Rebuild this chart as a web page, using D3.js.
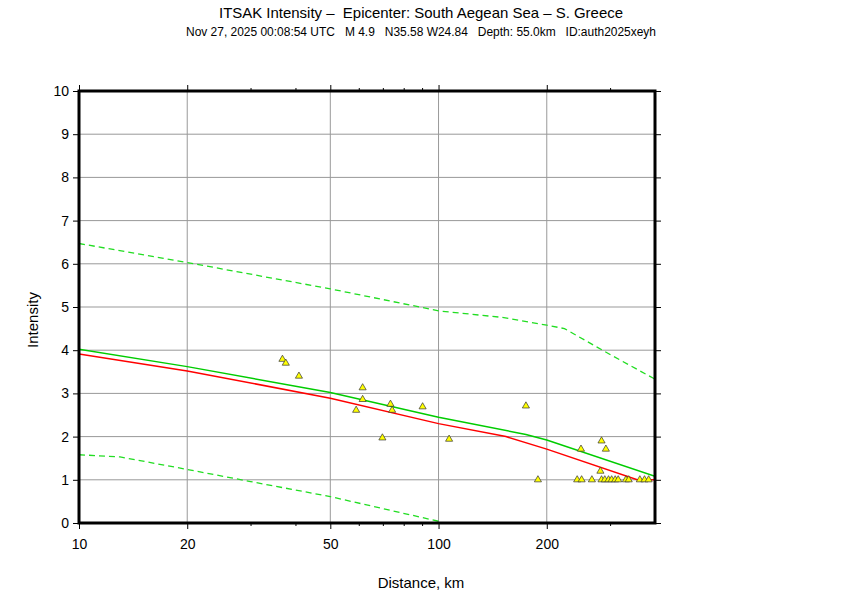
<!DOCTYPE html>
<html><head><meta charset="utf-8">
<script src="https://cdn.jsdelivr.net/npm/d3@7"></script>
<style>body{margin:0;background:#fff}text{font-family:"Liberation Sans",Arial,sans-serif}</style>
</head><body>
<svg id="c" width="842" height="595"></svg>
<script>
const title = "ITSAK Intensity \u2013  Epicenter: South Aegean Sea \u2013 S. Greece";
const subtitle = "Nov 27, 2025 00:08:54 UTC   M 4.9   N35.58 W24.84   Depth: 55.0km   ID:auth2025xeyh";
const xLabel = "Distance, km";
const yLabel = "Intensity";
const xMajorTicks = [10, 20, 50, 100, 200];
const xMinorTicks = [30, 40, 60, 70, 80, 90, 300];
const yTicks = [0,1,2,3,4,5,6,7,8,9,10];

// predicted curves [distance km, intensity]
const meanLine = [[10,4.02],[20,3.62],[50,3.02],[100,2.45],[175,2.05],[200,1.92],[400,1.08]];
const fitLine = [[10,3.91],[20,3.52],[50,2.89],[100,2.30],[154,2.0],[200,1.71],[357,1.0],[400,1.0]];
const upperLine = [[10,6.47],[20,6.03],[50,5.42],[100,4.91],[150,4.76],[200,4.58],[224,4.50],[300,3.90],[400,3.33]];
const lowerLine = [[10,1.58],[13,1.53],[20,1.24],[30,0.96],[50,0.61],[100,0.04]];

// observed stations
const obsDist = [36.8,37.6,40.9,61.5,61.5,59.0,73.5,74.3,90.3,69.8,107,175,189,249,284,292,282,
  243,250,267,284,290,297,303,310,316,332,338,363,374,384];
const obsInt = [3.79,3.70,3.40,3.13,2.86,2.61,2.75,2.61,2.69,1.97,1.94,2.71,1.0,1.71,1.90,1.71,1.20,
  1.0,1.0,1.0,1.0,1.0,1.0,1.0,1.0,1.0,1.0,1.0,1.0,1.0,1.0];

const L=79, R=655, T=91, B=523;
const svg = d3.select("#c");
const x = d3.scaleLog().domain([10,400]).range([L,R]);
const y = d3.scaleLinear().domain([0,10]).range([B,T]);

svg.append("text").attr("x",421).attr("y",18).attr("text-anchor","middle")
  .attr("font-size",15).attr("textLength",404).attr("lengthAdjust","spacingAndGlyphs").style("white-space","pre").text(title);
svg.append("text").attr("x",421).attr("y",36).attr("text-anchor","middle")
  .attr("font-size",12).attr("textLength",470).attr("lengthAdjust","spacingAndGlyphs").style("white-space","pre").text(subtitle);

// grid
const g = svg.append("g");
g.selectAll(".gy").data(yTicks.filter(d=>d>0&&d<10)).enter().append("line")
  .attr("x1",L).attr("x2",R).attr("y1",d=>y(d)).attr("y2",d=>y(d)).attr("stroke","#999").attr("stroke-width",1);
g.selectAll(".gx").data(xMajorTicks.filter(d=>d>10)).enter().append("line")
  .attr("y1",T).attr("y2",B).attr("x1",d=>x(d)).attr("x2",d=>x(d)).attr("stroke","#999").attr("stroke-width",1);

// axes
const ax = svg.append("g");
ax.append("g").attr("transform",`translate(0,${B})`)
  .call(d3.axisBottom(x).tickValues(xMajorTicks).tickFormat(d3.format("d")).tickSize(6).tickPadding(10));
ax.append("g").attr("transform",`translate(0,${B})`)
  .call(d3.axisBottom(x).tickValues(xMinorTicks).tickFormat("").tickSize(3));
ax.append("g").attr("transform",`translate(0,${T})`)
  .call(d3.axisTop(x).tickValues(xMajorTicks).tickFormat("").tickSize(6));
ax.append("g").attr("transform",`translate(0,${T})`)
  .call(d3.axisTop(x).tickValues(xMinorTicks).tickFormat("").tickSize(3));
ax.append("g").attr("transform",`translate(${L},0)`)
  .call(d3.axisLeft(y).tickValues(yTicks).tickFormat(d3.format("d")).tickSize(6).tickPadding(4));
ax.append("g").attr("transform",`translate(${R},0)`)
  .call(d3.axisRight(y).tickValues(yTicks).tickFormat("").tickSize(6));
ax.selectAll(".domain").remove();
ax.selectAll(".tick line").attr("stroke","#000").attr("stroke-width",1);
ax.selectAll(".tick text").attr("font-size",14).attr("fill","#000").style("font-family","Liberation Sans, Arial, sans-serif");

// clip
svg.append("clipPath").attr("id","clip").append("rect").attr("x",L).attr("y",T).attr("width",R-L).attr("height",B-T);
const plot = svg.append("g").attr("clip-path","url(#clip)");
const line = d3.line().x(d=>x(d[0])).y(d=>y(d[1]));
plot.append("path").datum(upperLine).attr("d",line).attr("fill","none").attr("stroke","#22dd22").attr("stroke-width",1.3).attr("stroke-dasharray","6,4");
plot.append("path").datum(lowerLine).attr("d",line).attr("fill","none").attr("stroke","#22dd22").attr("stroke-width",1.3).attr("stroke-dasharray","6,4");
plot.append("path").datum(meanLine).attr("d",line).attr("fill","none").attr("stroke","#00cc00").attr("stroke-width",1.5);
plot.append("path").datum(fitLine).attr("d",line).attr("fill","none").attr("stroke","#ff0000").attr("stroke-width",1.5);

const obs = obsDist.map((d,i)=>[d,obsInt[i]]);
const tri = d3.symbol().type(d3.symbolTriangle).size(22);
svg.append("g").selectAll("path").data(obs).enter().append("path")
  .attr("d",tri).attr("transform",d=>`translate(${x(d[0])},${y(d[1])})`)
  .attr("fill","#ffff00").attr("stroke","#333").attr("stroke-width",0.7);

// frame
svg.append("rect").attr("x",L).attr("y",T).attr("width",R-L).attr("height",B-T)
  .attr("fill","none").attr("stroke","#000").attr("stroke-width",3);

svg.append("text").attr("x",421).attr("y",588).attr("text-anchor","middle").attr("font-size",15).text(xLabel);
svg.append("text").attr("transform","translate(38,320) rotate(-90)").attr("text-anchor","middle").attr("font-size",15).text(yLabel);
</script>
</body></html>
